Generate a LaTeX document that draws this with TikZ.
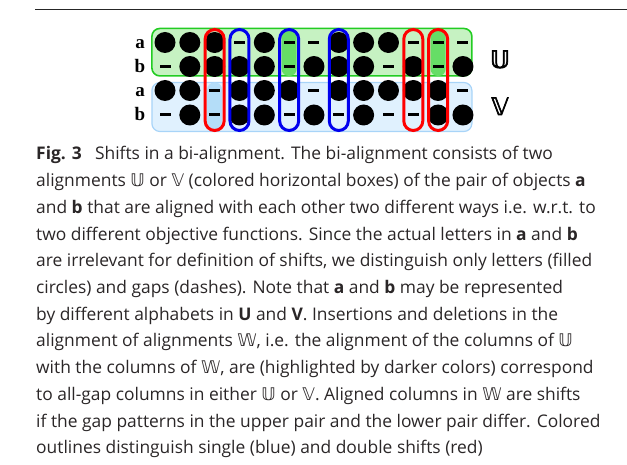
\documentclass[tikz,border=0pt]{standalone}
\usepackage{fontspec}
\setmainfont{Open Sans}
\newfontfamily\dejavu{DejaVu Sans}
\newfontfamily\dejavuheavy{DejaVu Sans}[FakeBold=2.6]
\newfontfamily\lserif{Liberation Serif}
\definecolor{ufill}{HTML}{C6F2C2}
\definecolor{uedge}{HTML}{22CC22}
\definecolor{uhi}{HTML}{66DD66}
\definecolor{vfill}{HTML}{E0F1FE}
\definecolor{vedge}{HTML}{A8D4F8}
\definecolor{vhi}{HTML}{B4DDF8}
\definecolor{sred}{HTML}{FF0000}
\definecolor{sblue}{HTML}{0000EE}
\definecolor{captxt}{HTML}{2A2627}
\tikzset{
  kind1/.style={circle, fill=black, minimum size=21pt, inner sep=0pt},
  kind0/.style={rectangle, fill=black, minimum width=11pt, minimum height=3pt, inner sep=0pt},
  ubox/.style={draw=uedge, fill=ufill, line width=1.6pt, rounded corners=8pt, minimum width=320pt, minimum height=47.5pt, inner sep=0pt},
  vbox/.style={draw=vedge, fill=vfill, line width=1.2pt, rounded corners=8pt, minimum width=320pt, minimum height=49pt, inner sep=0pt},
  uhl/.style={fill=uhi, rounded corners=7pt, minimum width=15pt, minimum height=47.5pt, inner sep=0pt},
  vhl/.style={fill=vhi, rounded corners=7pt, minimum width=15pt, minimum height=49pt, inner sep=0pt},
  shiftr/.style={draw=sred, line width=3pt, rounded corners=9.5pt, minimum width=19pt, minimum height=101pt, inner sep=0pt},
  shiftb/.style={draw=sblue, line width=3pt, rounded corners=9.5pt, minimum width=19pt, minimum height=101pt, inner sep=0pt},
  rowlab/.style={anchor=base, font=\lserif\bfseries\fontsize{19}{19}\selectfont, inner sep=0pt},
  bblab/.style={anchor=base, font=\dejavuheavy\fontsize{24}{24}\selectfont, inner sep=0pt},
  capline/.style={anchor=base west, inner sep=0pt, text=captxt, font=\fontsize{17.4}{20}\selectfont},
}
\newcommand{\bbU}{{\dejavu 𝕌}}
\newcommand{\bbV}{{\dejavu 𝕍}}
\newcommand{\bbW}{{\dejavu 𝕎}}
\begin{document}
\begin{tikzpicture}[x=1pt,y=-1pt]
\useasboundingbox (0,0) rectangle (627,465);
% top rule
\coordinate (rl) at (35,10);
\coordinate (rr) at (627,10);
\draw[line width=1pt, black!85] (rl) -- (rr);
% alignment boxes
\node[ubox] (U) at (311.9,52.2) {};
\node[vbox] (V) at (311.9,107) {};
% highlighted all-gap columns
\node[uhl] (hU6) at ({165+24.83*5},52.2) {};
\node[uhl] (hU12) at ({165+24.83*11},52.2) {};
\node[vhl] (hV3) at ({165+24.83*2},107) {};
% rows
\foreach \v [count=\c] in {1,1,1,0,1,0,0,1,1,1,0,0,0}
  \node[kind\v] (Ua\c) at ({165+24.83*(\c-1)},42.5) {};
\foreach \v [count=\c] in {0,1,1,1,1,0,1,1,1,0,1,0,1}
  \node[kind\v] (Ub\c) at ({165+24.83*(\c-1)},66.5) {};
\foreach \v [count=\c] in {1,1,0,1,1,1,0,1,1,1,1,1,0}
  \node[kind\v] (Va\c) at ({165+24.83*(\c-1)},90.5) {};
\foreach \v [count=\c] in {0,1,0,1,1,0,1,0,1,0,0,1,1}
  \node[kind\v] (Vb\c) at ({165+24.83*(\c-1)},115) {};
% shift outlines
\node[shiftr] (s3) at ({165+24.83*2},80) {};
\node[shiftb] (s4) at ({165+24.83*3},80) {};
\node[shiftb] (s6) at ({165+24.83*5},80) {};
\node[shiftb] (s8) at ({165+24.83*7},80) {};
\node[shiftr] (s11) at ({165+24.83*10},80) {};
\node[shiftr] (s12) at ({165+24.83*11},80) {};
% row labels
\node[rowlab] (la1) at (140,48.5) {a};
\node[rowlab] (lb1) at (140,72.5) {b};
\node[rowlab] (la2) at (140,96.5) {a};
\node[rowlab] (lb2) at (140,121) {b};
\node[bblab] (lU) at (500,68) {𝕌};
\node[bblab] (lV) at (500,115) {𝕍};
% caption
\node[capline] (c1) at (36,160) {{\bfseries Fig. 3}\hspace{0.5em} Shifts in a bi-alignment. The bi-alignment consists of two};
\node[capline] (c2) at (36,186.7) {alignments \bbU{} or \bbV{} (colored horizontal boxes) of the pair of objects {\bfseries a}};
\node[capline] (c3) at (36,213.4) {and {\bfseries b} that are aligned with each other two different ways i.e. w.r.t. to};
\node[capline] (c4) at (36,240.1) {two different objective functions. Since the actual letters in {\bfseries a} and {\bfseries b}};
\node[capline] (c5) at (36,266.8) {are irrelevant for definition of shifts, we distinguish only letters (filled};
\node[capline] (c6) at (36,293.5) {circles) and gaps (dashes). Note that {\bfseries a} and {\bfseries b} may be represented};
\node[capline] (c7) at (36,320.2) {by different alphabets in {\bfseries U} and {\bfseries V}. Insertions and deletions in the};
\node[capline] (c8) at (36,346.9) {alignment of alignments \bbW, i.e. the alignment of the columns of \bbU};
\node[capline] (c9) at (36,373.6) {with the columns of \bbW, are (highlighted by darker colors) correspond};
\node[capline] (c10) at (36,400.3) {to all-gap columns in either \bbU{} or \bbV. Aligned columns in \bbW{} are shifts};
\node[capline] (c11) at (36,427) {if the gap patterns in the upper pair and the lower pair differ. Colored};
\node[capline] (c12) at (36,453.7) {outlines distinguish single (blue) and double shifts (red)};
\end{tikzpicture}
\end{document}
